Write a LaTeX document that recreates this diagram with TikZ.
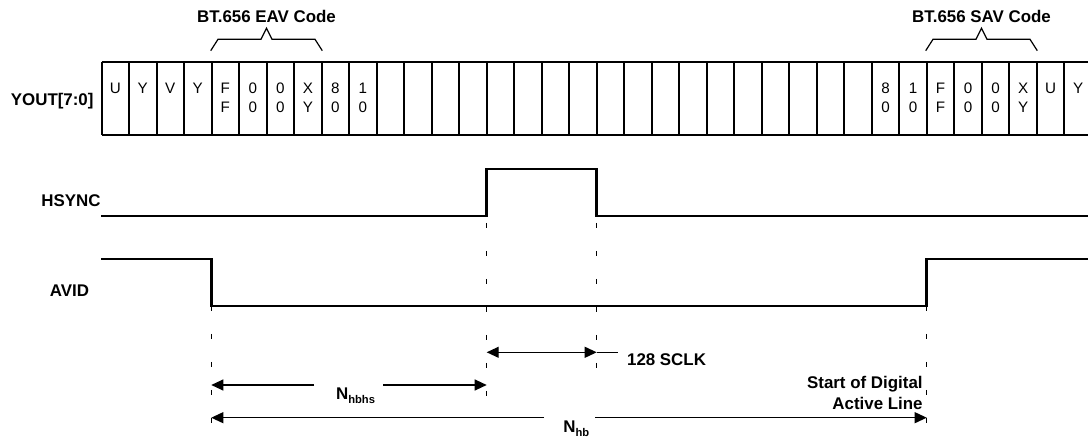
\documentclass[tikz,border=0pt]{standalone}
\usepackage{fontspec}
\setmainfont{Liberation Sans}
\usetikzlibrary{arrows.meta}

\newcommand{\lowtxt}[1]{\raisebox{-0.35ex}{\fontsize{5.6}{6}\selectfont #1}}

\tikzset{
  lbl/.style={font=\fontsize{8.45}{10}\selectfont\bfseries, inner sep=0pt},
  celltext/.style={font=\fontsize{7.6}{9}\selectfont, inner sep=0pt},
  wave/.style={line width=1.25pt, line join=miter},
  bus/.style={line width=1pt},
  guide/.style={line width=0.5pt, dash pattern=on 2.5pt off 11.5pt},
  dim/.style={line width=0.55pt},
  tip/.style={dim, -{Triangle[length=6pt,width=5.5pt]}},
  dimarr/.style={dim, {Triangle[length=6pt,width=5.5pt]}-{Triangle[length=6pt,width=5.5pt]}},
  brace/.style={line width=0.6pt},
}

\begin{document}
\begin{tikzpicture}[x=0.5pt,y=-0.5pt]
        \useasboundingbox (0,0) rectangle (1088,438);
        \coordinate (avidfall) at (211.3, 306);
        \coordinate (hsrise)   at (486.7, 216);
        \coordinate (hsfall)   at (596.7, 216);
        \coordinate (avidrise) at (926.7, 306);
        \coordinate (sclkL)    at (486.7, 352.3);
        \coordinate (sclkR)    at (596.7, 352.3);
        \coordinate (nhbhsL)   at (211.3, 385);
        \coordinate (nhbhsR)   at (486.7, 385);
        \coordinate (nhbL)     at (211.3, 417.7);
        \coordinate (nhbR)     at (926.7, 417.7);
        \coordinate (nhbhsgapL) at (314, 385);
        \coordinate (nhbhsgapR) at (383, 385);
        \coordinate (nhbgapL)  at (544, 417.7);
        \coordinate (nhbgapR)  at (595, 417.7);
        %
        \node[lbl, anchor=base] (eav) at (266.5, 22.7) {BT.656 EAV Code};
        \node[lbl, anchor=base] (sav) at (981.5, 22.7) {BT.656 SAV Code};
        \foreach \cx in {266.5, 981.5}
            \draw[brace] (\cx-55.8, 50.7) -- (\cx-48.5, 39.3) -- (\cx-5.5, 39.3) -- (\cx, 28.3)
                -- (\cx+5.5, 39.3) -- (\cx+48.5, 39.3) -- (\cx+55.8, 50.7);
        %
        \node[lbl, anchor=base] (yout)  at (52.2, 106) {YOUT[7:0]};
        \node[lbl, anchor=base] (hsync) at (71, 207) {HSYNC};
        \node[lbl, anchor=base] (avid)  at (69.5, 297) {AVID};
        %
        \draw[bus] (101.5, 61.7) -- (1091, 61.7);
        \draw[bus] (101.5, 135) -- (1091, 135);
        \foreach \i in {0,...,36}
            \draw[bus] ({101.5+\i*27.51}, 61.7) -- ({101.5+\i*27.51}, 135);
        \foreach \i/\hi/\lo in {0/U/, 1/Y/, 2/V/, 3/Y/, 4/F/F, 5/0/0, 6/0/0, 7/X/Y, 8/8/0, 9/1/0,
                28/8/0, 29/1/0, 30/F/F, 31/0/0, 32/0/0, 33/X/Y, 34/U/, 35/Y/}
        {
            \node[celltext, anchor=base] (hi\i) at ({101.5+(\i+0.5)*27.51}, 94) {\hi};
            \node[celltext, anchor=base] (lo\i) at ({101.5+(\i+0.5)*27.51}, 112.4) {\lo};
        }
        %
        \draw[wave] (101, 216) -- (hsrise) -- ++(0,-47) -| (hsfall) -- (1091, 216);
        \draw[wave] (101, 259) -| (avidfall) -- (avidrise) |- (1091, 259);
        %
        \draw[guide] (avidfall) -- ++(0,118);
        \draw[guide, dash phase=10.5pt] (hsrise) -- ++(0,180);
        \draw[guide, dash phase=10.5pt] (hsfall) -- ++(0,152);
        \draw[guide] (avidrise) -- ++(0,118);
        %
        \draw[dimarr] (sclkL) -- (sclkR);
        \draw[dim] (sclkR) -- ++(21.3,0);
        \node[lbl, anchor=base west] (sclk) at (626.7, 366) {128 SCLK};
        %
        \draw[tip] (nhbhsgapL) -- (nhbhsL);
        \draw[tip] (nhbhsgapR) -- (nhbhsR);
        \node[lbl, anchor=base west] (nhbhs) at (335.7, 400) {N\lowtxt{hbhs}};
        %
        \draw[tip] (nhbgapL) -- (nhbL);
        \draw[tip] (nhbgapR) -- (nhbR);
        \node[lbl, anchor=base west] (nhb) at (563, 433) {N\lowtxt{hb}};
        %
        \node[lbl, anchor=base east] (start)  at (923, 389) {Start of Digital};
        \node[lbl, anchor=base east] (active) at (923, 409) {Active Line};
\end{tikzpicture}
\end{document}
